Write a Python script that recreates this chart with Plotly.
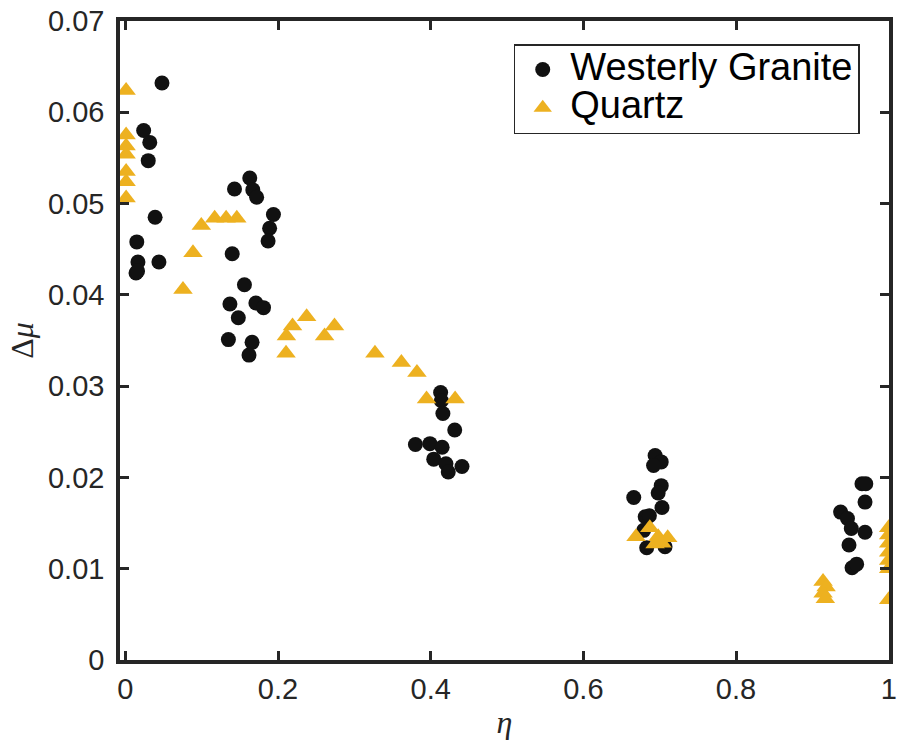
import plotly.graph_objects as go

# Westerly Granite
granite_eta = [0.048, 0.024, 0.032, 0.030, 0.039, 0.015, 0.0165, 0.044, 0.014, 0.016,
               0.163, 0.143, 0.167, 0.172, 0.194, 0.189, 0.187, 0.140, 0.156, 0.137,
               0.171, 0.181, 0.148, 0.135, 0.166, 0.162,
               0.413, 0.414, 0.416, 0.4315, 0.380, 0.399, 0.415, 0.404, 0.420, 0.423, 0.441,
               0.694, 0.702, 0.692, 0.702, 0.698, 0.666, 0.703, 0.681, 0.6865, 0.679, 0.683, 0.707,
               0.965, 0.970, 0.969, 0.937, 0.946, 0.951, 0.969, 0.948, 0.952, 0.958]
granite_dmu = [0.0632, 0.0580, 0.0567, 0.0547, 0.0485, 0.0458, 0.0436, 0.0436, 0.0424, 0.0426,
               0.0528, 0.0516, 0.0515, 0.0507, 0.0488, 0.0473, 0.0459, 0.0445, 0.0411, 0.0390,
               0.0391, 0.0386, 0.0375, 0.0351, 0.0348, 0.0334,
               0.0293, 0.0284, 0.0270, 0.0252, 0.0236, 0.0237, 0.0233, 0.0220, 0.0215, 0.0206, 0.0212,
               0.0224, 0.0217, 0.0213, 0.0191, 0.0183, 0.0178, 0.0167, 0.0157, 0.0158, 0.0142, 0.0123, 0.0124,
               0.0193, 0.0193, 0.0173, 0.0162, 0.0155, 0.0144, 0.0140, 0.0126, 0.0101, 0.0105]

# Quartz
quartz_eta = [0.001, 0.001, 0.001, 0.001, 0.001, 0.001, 0.001,
              0.0755, 0.0886, 0.0995, 0.117, 0.132, 0.146,
              0.2105, 0.211, 0.219, 0.2375, 0.261, 0.274,
              0.327, 0.3616, 0.382, 0.3946, 0.432,
              0.669, 0.687, 0.698, 0.7105, 0.694, 0.703,
              0.914, 0.918, 0.914, 0.917,
              1.0, 1.0, 1.0, 1.0, 1.0, 1.0, 1.0]
quartz_dmu = [0.0624, 0.0575, 0.0563, 0.0554, 0.0535, 0.0524, 0.0506,
              0.0406, 0.0446, 0.0476, 0.0484, 0.0484, 0.0484,
              0.0336, 0.0355, 0.0366, 0.0376, 0.0355, 0.0366,
              0.0336, 0.0326, 0.0315, 0.0286, 0.0286,
              0.0135, 0.0145, 0.0135, 0.0134, 0.0127, 0.0128,
              0.0086, 0.0080, 0.0073, 0.0067,
              0.0145, 0.0137, 0.0128, 0.0118, 0.0109, 0.0100, 0.0066]

series_names = ["Westerly Granite", "Quartz"]
x_ticks = [0, 0.2, 0.4, 0.6, 0.8, 1]
x_ticktext = ["0", "0.2", "0.4", "0.6", "0.8", "1"]
y_ticks = [0, 0.01, 0.02, 0.03, 0.04, 0.05, 0.06, 0.07]
y_ticktext = ["0", "0.01", "0.02", "0.03", "0.04", "0.05", "0.06", "0.07"]

AX = "#262626"
GOLD = "#EDB120"


def legend_label(s):
    return '<span style="font-size:38px">' + s + '</span>'


fig = go.Figure()
fig.add_trace(go.Scatter(x=granite_eta, y=granite_dmu, mode="markers", name=legend_label(series_names[0]),
                         marker=dict(symbol="circle", size=15, color="#111111", line=dict(width=0))))
fig.add_trace(go.Scatter(x=quartz_eta, y=quartz_dmu, mode="markers", name=legend_label(series_names[1]),
                         marker=dict(symbol="triangle-up", size=17, color=GOLD, line=dict(width=0))))

axis_common = dict(showgrid=False, zeroline=False, showline=True, linecolor=AX, linewidth=3.5,
                   mirror="allticks", ticks="inside", ticklen=9, tickwidth=3, tickcolor=AX,
                   automargin=False, ticklabeloverflow="allow",
                   tickfont=dict(family="Liberation Sans, Arial, sans-serif", size=29, color=AX))

fig.update_xaxes(range=[-0.007, 1.0004], tickvals=x_ticks, ticktext=x_ticktext,
                 title=dict(text="<i>η</i>", font=dict(family="Liberation Serif, serif", size=32, color=AX),
                            standoff=8),
                 **axis_common)
fig.update_yaxes(range=[0, 0.07], tickvals=y_ticks, ticktext=y_ticktext, ticklabelstandoff=6,
                 title=dict(text="Δ<i>μ</i>", font=dict(family="Liberation Serif, serif", size=32, color=AX),
                            standoff=6),
                 **axis_common)

fig.update_layout(
    width=897, height=740,
    margin=dict(l=120, r=8, t=21, b=80, autoexpand=False),
    plot_bgcolor="white", paper_bgcolor="white",
    legend=dict(x=0.512, y=0.964, xanchor="left", yanchor="top",
                bgcolor="white", bordercolor=AX, borderwidth=1.5,
                font=dict(family="Liberation Sans, Arial, sans-serif", size=27, color="#000000"),
                itemwidth=45, tracegroupgap=0),
)

fig.write_html("out.html")
